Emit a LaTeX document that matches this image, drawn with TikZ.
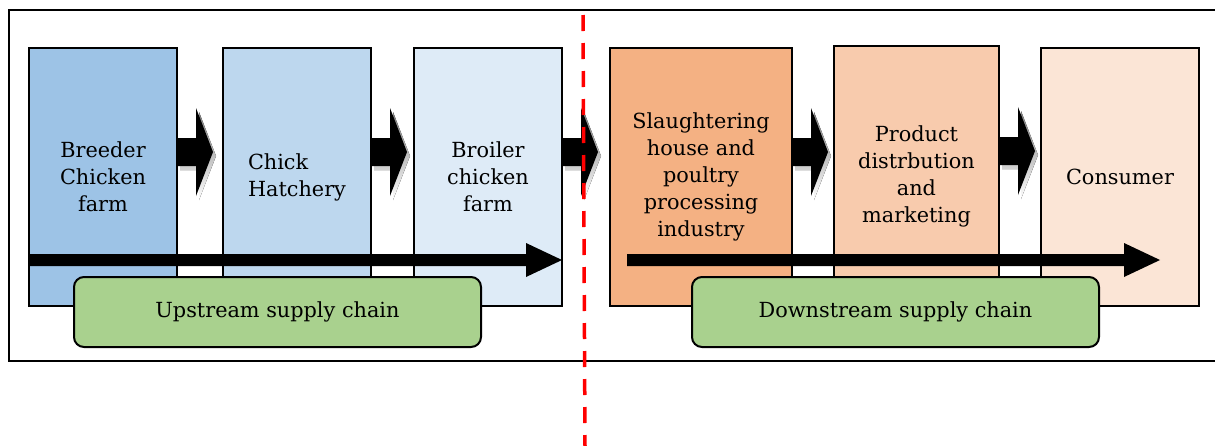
\documentclass[tikz,border=0pt]{standalone}
\usepackage{fontspec}
\setmainfont{DejaVu Serif}
\usetikzlibrary{calc}

\definecolor{breeder}{HTML}{9DC3E6}
\definecolor{hatch}{HTML}{BDD7EE}
\definecolor{broiler}{HTML}{DEEBF7}
\definecolor{slaughter}{HTML}{F4B183}
\definecolor{distrib}{HTML}{F8CBAD}
\definecolor{consumer}{HTML}{FBE5D6}
\definecolor{chaingreen}{HTML}{A9D18E}
\definecolor{shade}{HTML}{A6A6A6}

% block arrow leaving the east side of a stage box
\newcommand\flowarrow[1]{%
  \coordinate (fa) at ($(#1.east)+(0,-25)$);
  \fill[shade] ($(fa)+(3,4)$) ++(0,-14) -- ++(19,0) -- ++(0,-30) -- ++(17,44)
       -- ++(-17,44) -- ++(0,-30) -- ++(-19,0) -- cycle;
  \fill[black] (fa) ++(0,-14) -- ++(19,0) -- ++(0,-30) -- ++(17,44)
       -- ++(-17,44) -- ++(0,-30) -- ++(-19,0) -- cycle;
}

\begin{document}
\begin{tikzpicture}[x=1pt,y=-1pt,
  stagebox/.style={draw=black, line width=2pt, inner sep=0pt, outer sep=0pt,
    minimum height=258pt, align=center,
    font=\fontsize{20.8}{27}\selectfont},
  chainbox/.style={draw=black, line width=2pt, fill=chaingreen,
    rounded corners=10pt, inner sep=0pt, outer sep=0pt,
    minimum width=407pt, minimum height=70pt,
    font=\fontsize{20.8}{25}\selectfont},
  divider/.style={draw=red, line width=3.5pt, dash pattern=on 16pt off 12pt}]

\useasboundingbox (0,0) rectangle (1215,445);

% outer frame
\draw[line width=2pt] (9,10) rectangle (1220,361);

% stage boxes
\node[stagebox, fill=breeder,  minimum width=148pt] (b1) at (103,177) {Breeder\\Chicken\\farm};
\node[stagebox, fill=hatch,    minimum width=148pt, align=left] (b2) at (297,177) {Chick\\Hatchery};
\node[stagebox, fill=broiler,  minimum width=148pt] (b3) at (488,177) {Broiler\\chicken\\farm};
\node[stagebox, fill=slaughter,minimum width=182pt] (b4) at (701,177) {Slaughtering\\house and\\poultry\\processing\\industry};
\node[stagebox, fill=distrib,  minimum width=165pt, minimum height=260pt] (b5) at (916.5,176) {Product\\distrbution\\and\\marketing};
\node[stagebox, fill=consumer, minimum width=158pt] (b6) at (1120,177) {Consumer};

% flow between stages
\flowarrow{b1}
\flowarrow{b2}
\flowarrow{b3}
\flowarrow{b4}
\flowarrow{b5}

% long chain arrows
\coordinate (u0) at ($(b1.west)+(0,83)$);
\coordinate (u1) at ($(b3.east)+(0,83)$);
\fill (u0) ++(0,-6) -- ($(u1)+(-36,-6)$) -- ($(u1)+(-36,-17)$) -- (u1)
  -- ($(u1)+(-36,17)$) -- ($(u1)+(-36,6)$) -- ($(u0)+(0,6)$) -- cycle;

\coordinate (d0) at ($(b4.west)+(17,83)$);
\coordinate (d1) at ($(b6.east)+(-39,83)$);
\fill (d0) ++(0,-6) -- ($(d1)+(-36,-6)$) -- ($(d1)+(-36,-17)$) -- (d1)
  -- ($(d1)+(-36,17)$) -- ($(d1)+(-36,6)$) -- ($(d0)+(0,6)$) -- cycle;

% chain labels
\node[chainbox] (up) at (277.5,312) {Upstream supply chain};
\node[chainbox] (down) at (895.5,312) {Downstream supply chain};

% boundary between upstream and downstream
\coordinate (dtop) at (583,15);
\coordinate (dbot) at (585,447);
\draw[divider] (dtop) -- (dbot);

\end{tikzpicture}
\end{document}
